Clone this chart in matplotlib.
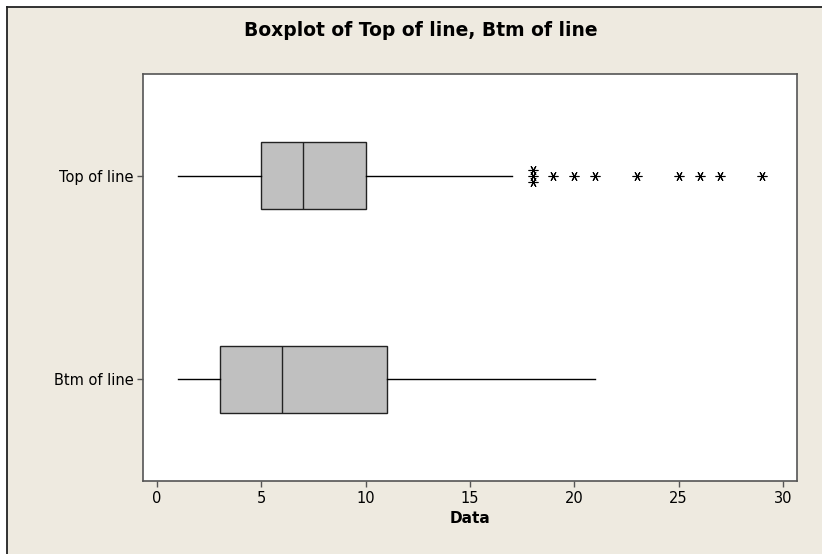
import matplotlib.pyplot as plt
from matplotlib.patches import Rectangle
from matplotlib.lines import Line2D

# summary values
labels = ["Btm of line", "Top of line"]
whislo = [1, 1]
q1 = [3, 5]
med = [6, 7]
q3 = [11, 10]
whishi = [21, 17]
top_outliers = [18, 18, 18, 19, 20, 21, 23, 25, 26, 27, 29]
btm_outliers = []
x_ticks = [0, 5, 10, 15, 20, 25, 30]

W, H = 822, 554
fig = plt.figure(figsize=(W / 100, H / 100), dpi=100)
fig.patch.set_facecolor("white")

# beige panel with the dark left/top frame line
bg = "#EEEAE0"
fig.patches.append(Rectangle((7 / W, 0), 1, 1 - 7 / H, transform=fig.transFigure,
                             facecolor=bg, edgecolor="none", zorder=-10))
fig.lines.append(Line2D([7 / W, 7 / W], [0, 1 - 7 / H], transform=fig.transFigure,
                        color="#222222", lw=1.3))
fig.lines.append(Line2D([7 / W, 1], [1 - 7 / H, 1 - 7 / H], transform=fig.transFigure,
                        color="#222222", lw=1.3))

ax = fig.add_axes([143 / W, 1 - 481 / H, (797 - 143) / W, (481 - 74) / H])
ax.set_facecolor("white")

stats = []
for i in range(len(labels)):
    stats.append(dict(label=labels[i], whislo=whislo[i], q1=q1[i], med=med[i],
                      q3=q3[i], whishi=whishi[i], fliers=[]))

ax.bxp(stats, positions=[1, 2], vert=False, widths=0.33, patch_artist=True,
       showcaps=False, showfliers=False,
       boxprops=dict(facecolor="#C0C0C0", edgecolor="#222222", linewidth=1.0),
       medianprops=dict(color="#222222", linewidth=1.0),
       whiskerprops=dict(color="black", linewidth=1.0))

# outliers, duplicates stacked vertically like Minitab does
for pos, vals in [(1, btm_outliers), (2, top_outliers)]:
    for v in sorted(set(vals)):
        n = vals.count(v)
        for k in range(n):
            off = (k - (n - 1) / 2) * 0.03
            ax.plot(v, pos + off, marker=(6, 2, 90), color="black",
                    markersize=7, markeredgewidth=0.8, linestyle="none")

ax.set_xlim(-0.67, 30.67)
ax.set_ylim(0.5, 2.5)
ax.set_xticks(x_ticks)
ax.set_xticklabels([str(t) for t in x_ticks], fontsize=10.5)
ax.set_yticks([1, 2])
ax.set_yticklabels(labels, fontsize=10.5)

for s in ax.spines.values():
    s.set_color("#555555")
    s.set_linewidth(1.2)
ax.tick_params(axis="both", direction="out", length=4, width=1, color="#555555",
               labelcolor="black", pad=3)

ax.set_xlabel("Data", fontsize=11, fontweight="bold", labelpad=4)
fig.text(0.512, 1 - 30 / H, "Boxplot of Top of line, Btm of line", ha="center",
         va="center", fontsize=13.5, fontweight="bold")

fig.savefig("out.png", dpi=100, facecolor=fig.get_facecolor())
